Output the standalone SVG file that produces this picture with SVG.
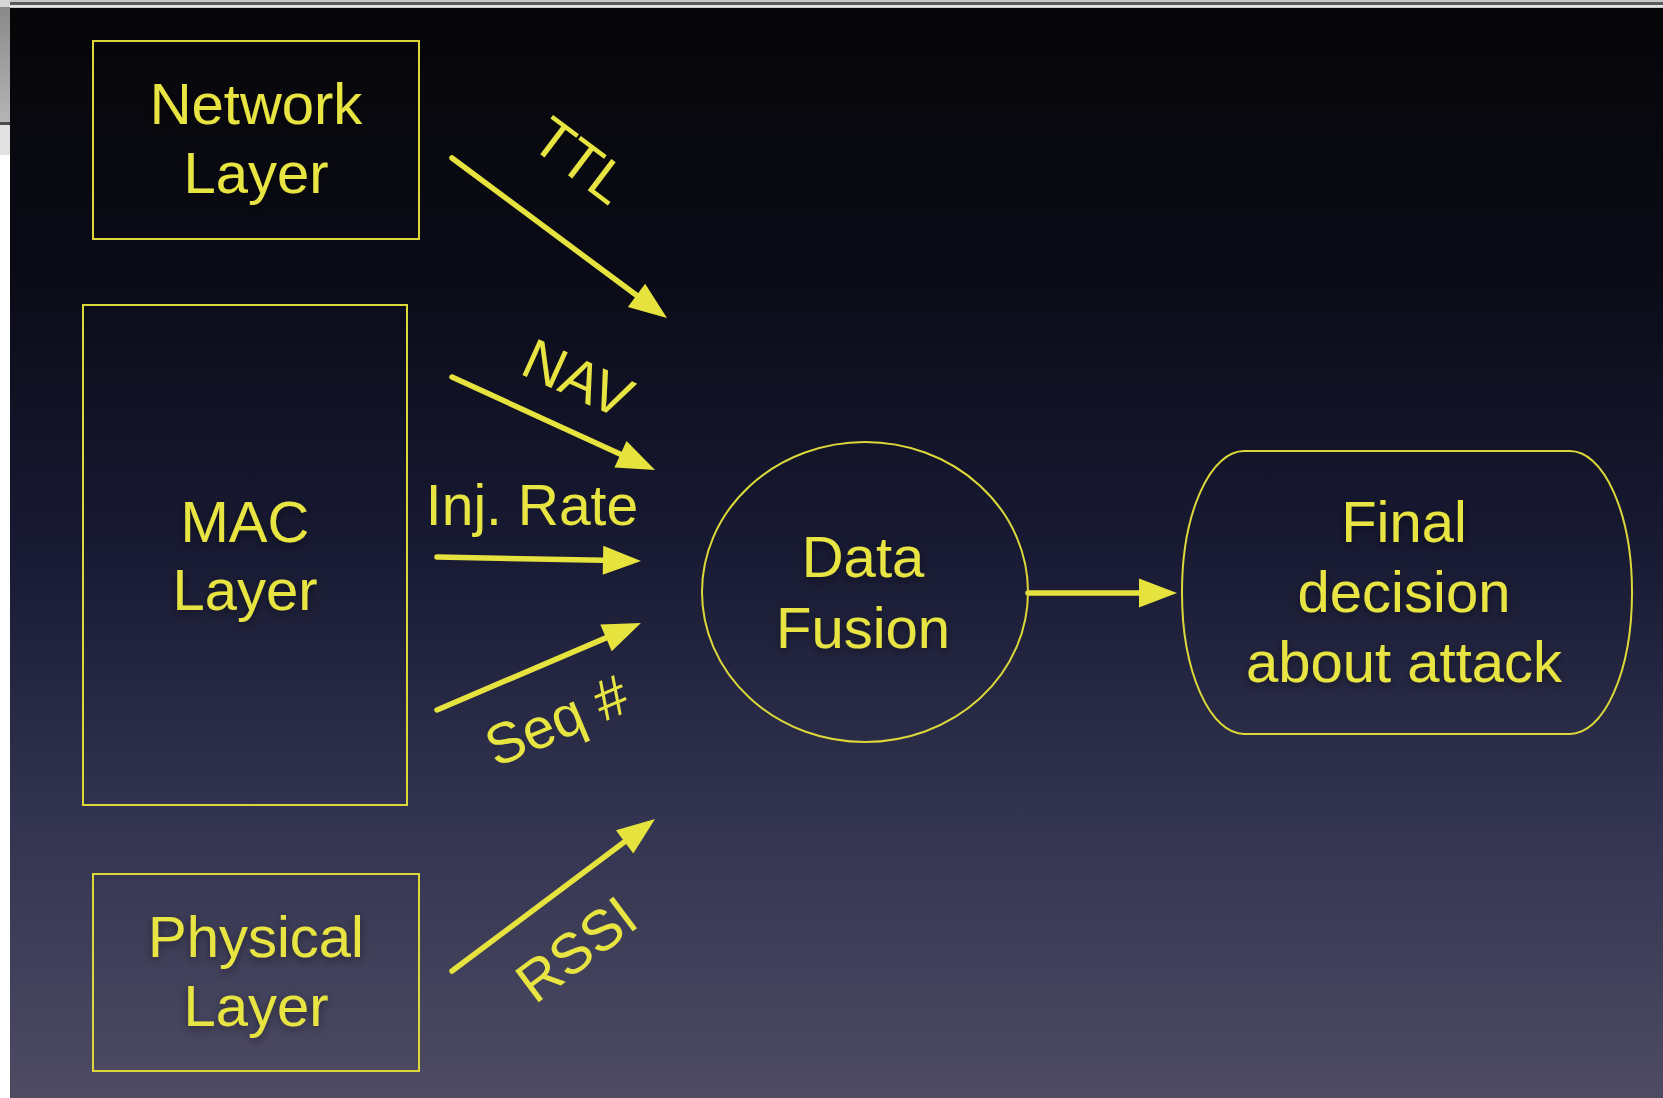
<svg xmlns="http://www.w3.org/2000/svg" width="1663" height="1098" viewBox="0 0 1663 1098">
  <defs>
    <linearGradient id="bg" x1="0" y1="0" x2="0" y2="1">
      <stop offset="0" stop-color="#060608"/>
      <stop offset="0.25" stop-color="#0b0b17"/>
      <stop offset="0.5" stop-color="#181a33"/>
      <stop offset="0.75" stop-color="#333451"/>
      <stop offset="1" stop-color="#4e4b63"/>
    </linearGradient>
    <linearGradient id="chrome" x1="0" y1="0" x2="0" y2="1">
      <stop offset="0" stop-color="#8a8a8a"/>
      <stop offset="1" stop-color="#b4b4b4"/>
    </linearGradient>
    <linearGradient id="paper" x1="0" y1="0" x2="0" y2="1">
      <stop offset="0" stop-color="#d6d6d6"/>
      <stop offset="1" stop-color="#ffffff"/>
    </linearGradient>
    <marker id="head" markerUnits="userSpaceOnUse" markerWidth="40" markerHeight="32"
            refX="0" refY="14.5" orient="auto" overflow="visible">
      <path d="M0,0 L38,14.5 L0,29 Z" fill="#e6e23e"/>
    </marker>
    <filter id="shadow" x="-20%" y="-20%" width="140%" height="140%">
      <feGaussianBlur in="SourceAlpha" stdDeviation="4"/>
      <feOffset dx="0" dy="3" result="b"/>
      <feFlood flood-color="#000" flood-opacity="0.45"/>
      <feComposite in2="b" operator="in"/>
      <feMerge><feMergeNode/><feMergeNode in="SourceGraphic"/></feMerge>
    </filter>
    <style>
      .box { fill: none; stroke: #dcd83a; stroke-width: 2; }
      .txt { fill: #e8e442; font-family: "Liberation Sans", Arial, sans-serif; font-size: 58px; text-anchor: middle; filter: url(#shadow); }
      .lbl { fill: #e8e442; font-family: "Liberation Sans", Arial, sans-serif; font-size: 57px; text-anchor: middle; }
      .arrow { fill: none; stroke: #e6e23e; stroke-width: 5.5; stroke-linecap: round; marker-end: url(#head); }
    </style>
  </defs>

  <!-- slide background -->
  <rect x="0" y="0" width="1663" height="1098" fill="url(#bg)"/>

  <!-- window chrome along the top and left edges -->
  <rect x="0" y="0" width="1663" height="8" fill="#c8c8c8"/>
  <rect x="0" y="2" width="1663" height="3" fill="#5a5a5a"/>
  <rect x="0" y="5" width="1663" height="2" fill="#e4e4e4"/>
  <rect x="0" y="0" width="10" height="1098" fill="url(#paper)"/>
  <rect x="0" y="7" width="10" height="115" fill="url(#chrome)"/>
  <rect x="0" y="122" width="10" height="3" fill="#4a4a4a"/>
  <rect x="0" y="125" width="10" height="30" fill="#e2e2e2"/>
  <rect x="0" y="155" width="10" height="943" fill="#ffffff"/>

  <!-- connectors -->
  <g id="connectors">
    <line class="arrow" x1="452" y1="158" x2="636.5" y2="295.3"/>
    <line class="arrow" x1="452" y1="377" x2="620.5" y2="454.2"/>
    <line class="arrow" x1="437" y1="557" x2="603" y2="560.3"/>
    <line class="arrow" x1="437" y1="710" x2="606" y2="637.9"/>
    <line class="arrow" x1="452" y1="971" x2="624.6" y2="841.8"/>
    <line class="arrow" x1="1028" y1="593" x2="1139" y2="593"/>

    <text class="lbl" transform="translate(581,160) rotate(37)" y="20">TTL</text>
    <text class="lbl" transform="translate(578,378) rotate(24.4)" y="20">NAV</text>
    <text class="lbl" x="532" y="525">Inj. Rate</text>
    <text class="lbl" transform="translate(558,724) rotate(-23)" y="16">Seq #</text>
    <text class="lbl" transform="translate(576,949) rotate(-37)" y="20">RSSI</text>
  </g>

  <!-- network layer -->
  <g id="network-layer">
    <rect class="box" x="93" y="41" width="326" height="198"/>
    <text class="txt" x="256" y="124">Network</text>
    <text class="txt" x="256" y="193">Layer</text>
  </g>

  <!-- MAC layer -->
  <g id="mac-layer">
    <rect class="box" x="83" y="305" width="324" height="500"/>
    <text class="txt" x="245" y="542">MAC</text>
    <text class="txt" x="245" y="610">Layer</text>
  </g>

  <!-- physical layer -->
  <g id="physical-layer">
    <rect class="box" x="93" y="874" width="326" height="197"/>
    <text class="txt" x="256" y="957">Physical</text>
    <text class="txt" x="256" y="1026">Layer</text>
  </g>

  <!-- data fusion -->
  <g id="data-fusion">
    <ellipse class="box" cx="865" cy="592" rx="163" ry="150"/>
    <text class="txt" x="863" y="577">Data</text>
    <text class="txt" x="863" y="648">Fusion</text>
  </g>

  <!-- final decision -->
  <g id="final-decision">
    <rect class="box" x="1182" y="451" width="450" height="283" rx="62" ry="141"/>
    <text class="txt" x="1404" y="542">Final</text>
    <text class="txt" x="1404" y="612">decision</text>
    <text class="txt" x="1404" y="682">about attack</text>
  </g>
</svg>
